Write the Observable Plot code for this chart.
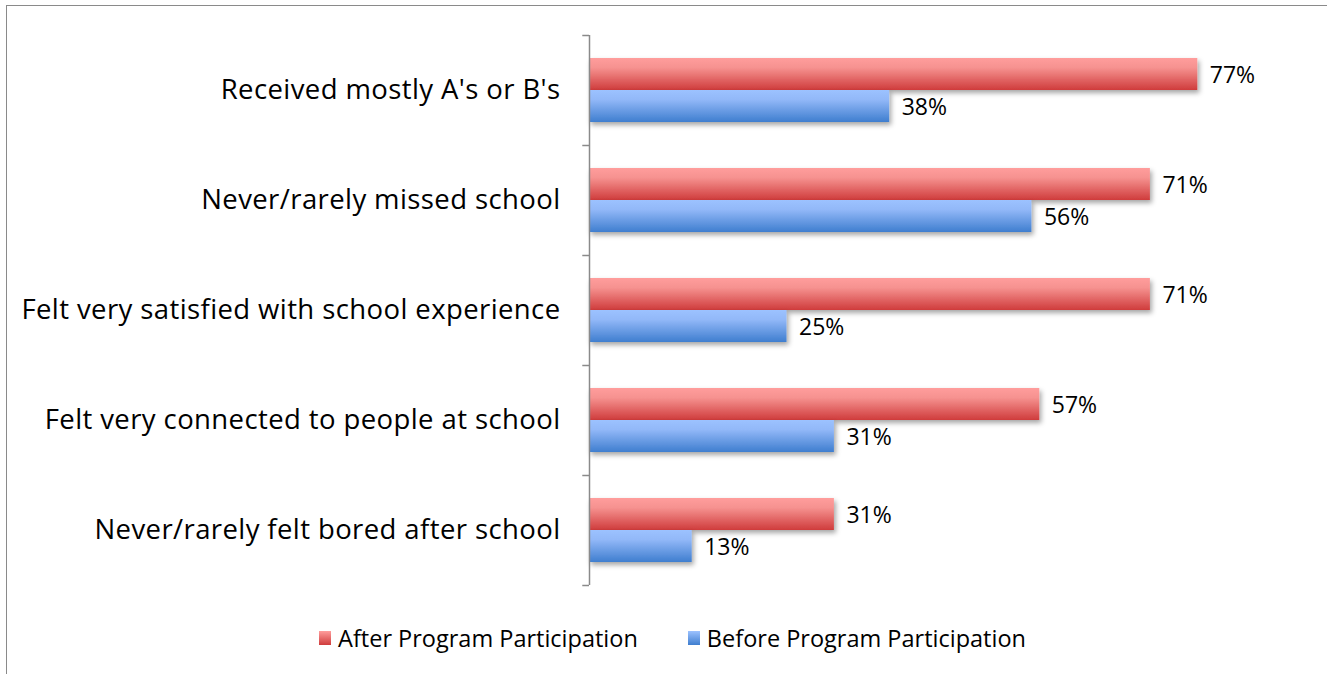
<!DOCTYPE html>
<html>
<head>
<meta charset="utf-8">
<script src="https://cdn.jsdelivr.net/npm/d3@7"></script>
<script src="https://cdn.jsdelivr.net/npm/@observablehq/plot@0.6"></script>
<style>
  html, body { margin: 0; padding: 0; background: #fff; }
  body { width: 1327px; height: 674px; position: relative; overflow: hidden; font-family: "Open Sans", Lato, sans-serif; }
  #frame { position: absolute; left: 6px; top: 5px; right: -10px; bottom: -10px; border-top: 1.5px solid #8a8a8a; border-left: 1.5px solid #8a8a8a; pointer-events: none; }
  #chart { position: absolute; left: 0; top: 0; }
  #legend { position: absolute; left: 18px; top: 610px; width: 1309px; height: 56px; display: flex; align-items: center; justify-content: center; font-size: 23.5px; color: #000; }
  .item { display: flex; align-items: center; margin: 0 25px; }
  .sw { width: 12px; height: 14px; margin-right: 7px; }
</style>
</head>
<body>
<div id="chart"></div>
<div id="legend"></div>
<div id="frame"></div>
<script>
const categories = [
  "Received mostly A's or B's",
  "Never/rarely missed school",
  "Felt very satisfied with school experience",
  "Felt very connected to people at school",
  "Never/rarely felt bored after school"
];
const seriesNames = ["After Program Participation", "Before Program Participation"];
const afterValues = [77, 71, 71, 57, 31];
const beforeValues = [38, 56, 25, 31, 13];

const after = categories.map((c, i) => ({category: c, value: afterValues[i]}));
const before = categories.map((c, i) => ({category: c, value: beforeValues[i]}));

const plot = Plot.plot({
  width: 1327,
  height: 610,
  marginLeft: 589,
  marginRight: 106,
  marginTop: 35,
  marginBottom: 25,
  style: {fontFamily: "'Open Sans', Lato, sans-serif", background: "transparent", overflow: "visible"},
  x: {domain: [0, 80], axis: null},
  y: {domain: categories, padding: 0, axis: null},
  marks: [
    Plot.barX(after, {x: "value", y: "category", fill: "url(#gradRed)", insetTop: 23, insetBottom: 55}),
    Plot.barX(before, {x: "value", y: "category", fill: "url(#gradBlue)", insetTop: 55, insetBottom: 23}),
    Plot.text(after, {x: "value", y: "category", text: d => d.value + "%", dx: 12, dy: -15, textAnchor: "start", fontSize: 23, fill: "#000"}),
    Plot.text(before, {x: "value", y: "category", text: d => d.value + "%", dx: 12, dy: 17, textAnchor: "start", fontSize: 23, fill: "#000"}),
    Plot.ruleX([0], {stroke: "#8a8a8a", strokeWidth: 1.5}),
    Plot.ruleY(categories, {y: d => d, x1: -0.85, x2: 0, dy: -55, stroke: "#8a8a8a", strokeWidth: 1.5}),
    Plot.ruleY(categories.slice(-1), {y: d => d, x1: -0.85, x2: 0, dy: 55, stroke: "#8a8a8a", strokeWidth: 1.5}),
    Plot.axisY({tickSize: 0, tickPadding: 29, fontSize: 27.5, fill: "#000", label: null, style: "letter-spacing:0.4px"})
  ]
});

const defs = `<defs>
  <linearGradient id="gradRed" x1="0" y1="0" x2="0" y2="1">
    <stop offset="0" stop-color="#ff9d9c"/>
    <stop offset="0.3" stop-color="#f69290"/>
    <stop offset="1" stop-color="#cf3c3c"/>
  </linearGradient>
  <linearGradient id="gradBlue" x1="0" y1="0" x2="0" y2="1">
    <stop offset="0" stop-color="#9cc2ff"/>
    <stop offset="0.3" stop-color="#92b8f8"/>
    <stop offset="1" stop-color="#3f7ecf"/>
  </linearGradient>
  <filter id="shadow" x="-5%" y="-30%" width="115%" height="180%">
    <feDropShadow dx="2" dy="3" stdDeviation="2.5" flood-color="#000" flood-opacity="0.35"/>
  </filter>
</defs>`;
plot.insertAdjacentHTML("afterbegin", defs);
plot.querySelectorAll("g[aria-label='bar']").forEach(g => g.setAttribute("filter", "url(#shadow)"));
plot.querySelectorAll("g[aria-label='y-axis tick label']").forEach(g => g.setAttribute("letter-spacing", "0.4"));
document.getElementById("chart").appendChild(plot);

const legend = document.getElementById("legend");
const legendFills = ["linear-gradient(#ff9d9c, #cf3c3c)", "linear-gradient(#9cc2ff, #3f7ecf)"];
seriesNames.forEach((name, i) => {
  const item = document.createElement("div");
  item.className = "item";
  item.innerHTML = `<span class="sw" style="background:${legendFills[i]}"></span><span>${name}</span>`;
  legend.appendChild(item);
});
</script>
</body>
</html>
